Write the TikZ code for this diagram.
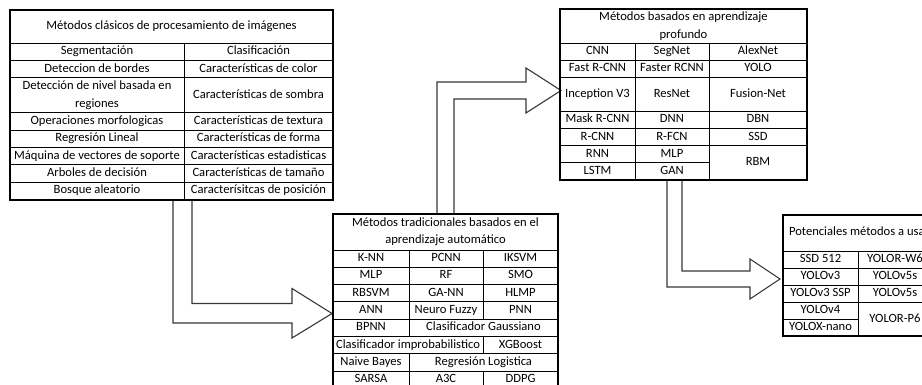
\documentclass[tikz,border=0pt]{standalone}
\usepackage{fontspec}
\setmainfont{Carlito}
\usetikzlibrary{calc}

\tikzset{
  inner/.style={line width=0.9pt, line cap=rect},
  frame/.style={line width=1.9pt, line join=miter},
  cell/.style={inner sep=0pt, text height=8.8pt, text depth=2.8pt,
    font=\fontsize{12.6}{17.3}\selectfont},
  cellii/.style={inner sep=0pt, align=center,
    font=\fontsize{12.6}{17.3}\selectfont},
  blockarrow/.style={draw=black!78, fill=white, line width=1.1pt, line join=miter},
}
\newcommand\cl[4]{\node[cell] (#1) at (#2,#3) {#4};}

\begin{document}
\begin{tikzpicture}[x=1pt, y=-1pt]
\useasboundingbox (0,0) rectangle (922,385);
\clip (0,0) rectangle (922,385);
\fill[white] (0,0) rectangle (922,385);

% end points of the block arrows
\coordinate (a1s) at (182.5,199.6);
\coordinate (a1t) at (332,313.5);
\coordinate (a2s) at (445.5,214);
\coordinate (a2t) at (561,90.5);
\coordinate (a3s) at (674.5,179.8);
\coordinate (a3t) at (780,279);

% classical methods -> traditional machine learning
\path[blockarrow] ($(a1s)+(-9.5,0)$) |- ($(a1t)+(-40,9.5)$) -- ++(0,15) -- (a1t)
  -- ++(-40,-25) -- ++(0,15) -| ($(a1s)+(9.5,0)$);
% traditional machine learning -> deep learning
\path[blockarrow] ($(a2s)+(-8.5,0)$) |- ($(a2t)+(-35,-8.5)$) -- ++(0,-14) -- (a2t)
  -- ++(-35,22.5) -- ++(0,-14) -| ($(a2s)+(8.5,0)$);
% deep learning -> candidate methods
\path[blockarrow] ($(a3s)+(-7.5,0)$) |- ($(a3t)+(-30,8)$) -- ++(0,12) -- (a3t)
  -- ++(-30,-20) -- ++(0,12) -| ($(a3s)+(7.5,0)$);

% ---------- Table 1: classical image processing ----------
\foreach \y in {43,60.4,77.8,112.6,130,147.4,164.8,182.2}
  \draw[inner] (10,\y) -- (333,\y);
\draw[inner] (184,43) -- (184,199.6);
\draw[frame] (10,10) rectangle (333,199.6);

\cl{t1h}{171.5}{26.5}{Métodos clásicos de procesamiento de imágenes}
\cl{t1a1}{97}{51.7}{Segmentación}
\cl{t1b1}{258.5}{51.7}{Clasificación}
\cl{t1a2}{97}{69.1}{Deteccion de bordes}
\cl{t1b2}{258.5}{69.1}{Características de color}
\node[cellii] (t1a3) at (97,95.2) {Detección de nivel basada en\\regiones};
\cl{t1b3}{258.5}{95.2}{Características de sombra}
\cl{t1a4}{97}{121.3}{Operaciones morfologicas}
\cl{t1b4}{258.5}{121.3}{Características de textura}
\cl{t1a5}{97}{138.7}{Regresión Lineal}
\cl{t1b5}{258.5}{138.7}{Características de forma}
\cl{t1a6}{97}{156.1}{Máquina de vectores de soporte}
\cl{t1b6}{258.5}{156.1}{Características estadisticas}
\cl{t1a7}{97}{173.5}{Arboles de decisión}
\cl{t1b7}{258.5}{173.5}{Características de tamaño}
\cl{t1a8}{97}{190.9}{Bosque aleatorio}
\cl{t1b8}{258.5}{190.9}{Caracterísitcas de posición}

% ---------- Table 2: deep learning ----------
\foreach \y in {43,60.1,77.2,111.4,128.5,145.6}
  \draw[inner] (560,\y) -- (807,\y);
\draw[inner] (560,162.7) -- (709,162.7);
\draw[inner] (635,43) -- (635,179.8);
\draw[inner] (709,43) -- (709,179.8);
\draw[frame] (560,9) rectangle (807,179.8);

\node[cellii] (t2h) at (683.5,26) {Métodos basados en aprendizaje\\profundo};
\cl{t2a1}{597.5}{51.55}{CNN}
\cl{t2b1}{672}{51.55}{SegNet}
\cl{t2c1}{758}{51.55}{AlexNet}
\cl{t2a2}{597.5}{68.65}{Fast R-CNN}
\cl{t2b2}{672}{68.65}{Faster RCNN}
\cl{t2c2}{758}{68.65}{YOLO}
\cl{t2a3}{597.5}{94.3}{Inception V3}
\cl{t2b3}{672}{94.3}{ResNet}
\cl{t2c3}{758}{94.3}{Fusion-Net}
\cl{t2a4}{597.5}{119.95}{Mask R-CNN}
\cl{t2b4}{672}{119.95}{DNN}
\cl{t2c4}{758}{119.95}{DBN}
\cl{t2a5}{597.5}{137.05}{R-CNN}
\cl{t2b5}{672}{137.05}{R-FCN}
\cl{t2c5}{758}{137.05}{SSD}
\cl{t2a6}{597.5}{154.15}{RNN}
\cl{t2b6}{672}{154.15}{MLP}
\cl{t2c6}{758}{162.7}{RBM}
\cl{t2a7}{597.5}{171.25}{LSTM}
\cl{t2b7}{672}{171.25}{GAN}

% ---------- Table 3: traditional machine learning ----------
\foreach \y in {250,267.3,284.6,301.9,319.2,336.5,353.8,371.1}
  \draw[inner] (333,\y) -- (558,\y);
\draw[inner] (409,250) -- (409,336.5);
\draw[inner] (409,353.8) -- (409,388.4);
\draw[inner] (483,250) -- (483,319.2);
\draw[inner] (483,336.5) -- (483,353.8);
\draw[inner] (483,371.1) -- (483,388.4);
\draw[frame] (333,214) rectangle (558,388.4);

\node[cellii] (t3h) at (445.5,232) {Métodos tradicionales basados en el\\aprendizaje automático};
\cl{t3a1}{371}{258.65}{K-NN}
\cl{t3b1}{446}{258.65}{PCNN}
\cl{t3c1}{520.5}{258.65}{IKSVM}
\cl{t3a2}{371}{275.95}{MLP}
\cl{t3b2}{446}{275.95}{RF}
\cl{t3c2}{520.5}{275.95}{SMO}
\cl{t3a3}{371}{293.25}{RBSVM}
\cl{t3b3}{446}{293.25}{GA-NN}
\cl{t3c3}{520.5}{293.25}{HLMP}
\cl{t3a4}{371}{310.55}{ANN}
\cl{t3b4}{446}{310.55}{Neuro Fuzzy}
\cl{t3c4}{520.5}{310.55}{PNN}
\cl{t3a5}{371}{327.85}{BPNN}
\cl{t3b5}{483.5}{327.85}{Clasificador Gaussiano}
\cl{t3a6}{408}{345.15}{Clasificador improbabilistico}
\cl{t3c6}{520.5}{345.15}{XGBoost}
\cl{t3a7}{371}{362.45}{Naive Bayes}
\cl{t3b7}{483.5}{362.45}{Regresión Logistica}
\cl{t3a8}{371}{379.75}{SARSA}
\cl{t3b8}{446}{379.75}{A3C}
\cl{t3c8}{520.5}{379.75}{DDPG}

% ---------- Table 4: candidate methods ----------
\foreach \y in {251,268,285,302}
  \draw[inner] (783,\y) -- (938,\y);
\draw[inner] (783,319) -- (858,319);
\draw[inner] (858,251) -- (858,336);
\draw[frame] (783,215) rectangle (938,336);

\cl{t4h}{859}{233}{Potenciales métodos a usar}
\cl{t4a1}{820.5}{259.5}{SSD 512}
\cl{t4b1}{895}{259.5}{YOLOR-W6}
\cl{t4a2}{820.5}{276.5}{YOLOv3}
\cl{t4b2}{895}{276.5}{YOLOv5s}
\cl{t4a3}{820.5}{293.5}{YOLOv3 SSP}
\cl{t4b3}{895}{293.5}{YOLOv5s}
\cl{t4a4}{820.5}{310.5}{YOLOv4}
\cl{t4b4}{895}{319}{YOLOR-P6}
\cl{t4a5}{820.5}{327.5}{YOLOX-nano}
\end{tikzpicture}
\end{document}
